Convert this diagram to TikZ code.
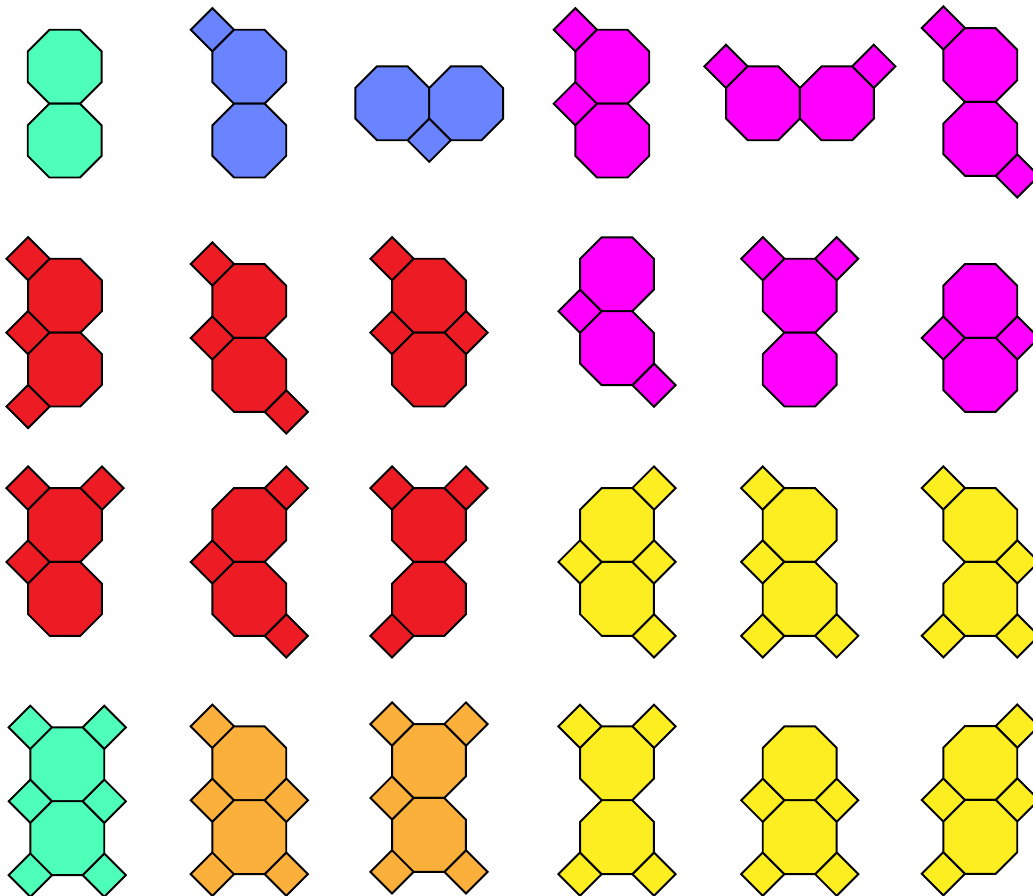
\documentclass[tikz,border=0pt]{standalone}
\usepackage{tikz}
\definecolor{tileteal}{HTML}{4EFFB9}
\definecolor{tileblue}{HTML}{6A84FF}
\definecolor{tilemag}{HTML}{FF00FF}
\definecolor{tilered}{HTML}{ED1C24}
\definecolor{tileyel}{HTML}{FCEE21}
\definecolor{tileorg}{HTML}{FBB03B}

% vertical piece: colour, top octagon centre, squares (in apothems)
\newcommand{\vtile}[3]{%
  \begin{scope}[shift={#2}]
    \foreach \qx/\qy in {#3} {\pic[fill=#1] at (\qx*36.94, \qy*36.94) {sq};}
    \pic[fill=#1] at (0, 0) {oct};
    \pic[fill=#1] at (0, 73.88) {oct};
  \end{scope}}
% horizontal piece: colour, left octagon centre, squares
\newcommand{\htile}[3]{%
  \begin{scope}[shift={#2}]
    \foreach \qx/\qy in {#3} {\pic[fill=#1] at (\qx*36.94, \qy*36.94) {sq};}
    \pic[fill=#1] at (0, 0) {oct};
    \pic[fill=#1] at (73.88, 0) {oct};
  \end{scope}}

\begin{document}
\begin{tikzpicture}[
  x=0.02cm, y=-0.02cm,
  line width=1.1pt,
  oct/.pic={\draw[pic actions] (-15.3,-36.94) -- (15.3,-36.94) -- (36.94,-15.3)
      -- (36.94,15.3) -- (15.3,36.94) -- (-15.3,36.94) -- (-36.94,15.3)
      -- (-36.94,-15.3) -- cycle;},
  sq/.pic={\draw[pic actions] (0,-21.64) -- (21.64,0) -- (0,21.64) -- (-21.64,0) -- cycle;},
]
\useasboundingbox (0,0) rectangle (1033,895);
\clip (0,0) rectangle (1033,895);

% row 1
\begin{scope}[shift={(64.7,66.7)}]
  \pic[fill=tileteal] at (0,0) {oct};
  \pic[fill=tileteal] at (0,73.88) {oct};
\end{scope}
\vtile{tileblue}{(249.3,66.7)}{-1/-1}
\htile{tileblue}{(392.3,103.3)}{1/1}
\vtile{tilemag}{(612.3,66.7)}{-1/-1, -1/1}
\htile{tilemag}{(763,103.3)}{-1/-1, 3/-1}
\vtile{tilemag}{(980.3,65)}{-1/-1, 1/3}

% row 2
\vtile{tilered}{(65,295.7)}{-1/-1, -1/1, -1/3}
\vtile{tilered}{(249.3,301)}{-1/-1, -1/1, 1/3}
\vtile{tilered}{(429,295.7)}{-1/-1, -1/1, 1/1}
\vtile{tilemag}{(617,274.3)}{-1/1, 1/3}
\vtile{tilemag}{(799.7,295.7)}{-1/-1, 1/-1}
\vtile{tilemag}{(980.3,301)}{-1/1, 1/1}

% row 3
\vtile{tilered}{(65,525)}{-1/-1, 1/-1, -1/1}
\vtile{tilered}{(249.3,525)}{1/-1, -1/1, 1/3}
\vtile{tilered}{(429,525)}{-1/-1, 1/-1, -1/3}
\vtile{tileyel}{(617,525)}{1/-1, -1/1, 1/1, 1/3}
\vtile{tileyel}{(799.7,525)}{-1/-1, -1/1, -1/3, 1/3}
\vtile{tileyel}{(980.3,525)}{-1/-1, 1/1, -1/3, 1/3}

% row 4
\vtile{tileteal}{(67.3,764.3)}{-1/-1, 1/-1, -1/1, 1/1, -1/3, 1/3}
\vtile{tileorg}{(249.3,763.3)}{-1/-1, -1/1, 1/1, -1/3, 1/3}
\vtile{tileorg}{(429,761)}{-1/-1, 1/-1, -1/1, -1/3, 1/3}
\vtile{tileyel}{(617,763.3)}{-1/-1, 1/-1, -1/3, 1/3}
\vtile{tileyel}{(799.7,763.3)}{-1/1, 1/1, -1/3, 1/3}
\vtile{tileyel}{(980.3,763)}{1/-1, -1/1, 1/1, -1/3}

\end{tikzpicture}
\end{document}
